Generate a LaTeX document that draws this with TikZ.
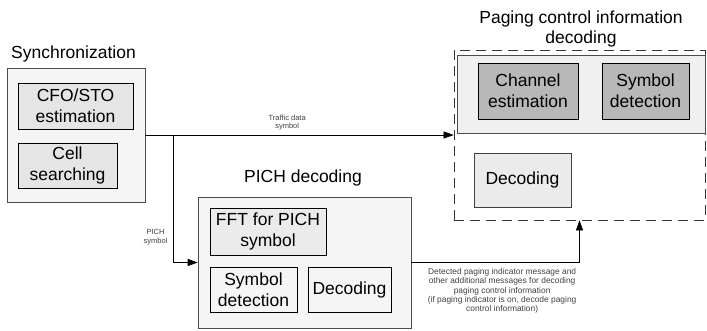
\documentclass[tikz,border=0pt]{standalone}
\usepackage{fontspec}
\setmainfont{Liberation Sans}
\usetikzlibrary{positioning,calc,arrows.meta}

\begin{document}
\begin{tikzpicture}[x=1pt,y=-1pt,
	grp/.style={draw=black!70,line width=0.6pt,fill=black!4,inner sep=0pt},
	blk/.style={draw=black,line width=0.8pt,fill=black!10,align=center,inner sep=0pt,font=\fontsize{17.5}{21}\selectfont},
	ttl/.style={align=center,font=\fontsize{17.5}{20}\selectfont},
	lbl/.style={align=center,font=\fontsize{7.5}{8.6}\selectfont,text=black!75},
	arr/.style={-{Triangle[length=10pt,width=7pt]},line width=0.6pt}]
	\useasboundingbox (0,0) rectangle (707,330);
	% synchronization
	\node [ttl] (synct) at (73.5,54) {Synchronization};
	\node [grp,minimum width=138,minimum height=134] (sync) at (76,135) {};
	\node [blk,minimum width=115,minimum height=46] (cfo) at (75.5,106) {CFO/STO\\estimation};
	\node [blk,minimum width=99,minimum height=45] (cell) at (67.5,165.5) {Cell\\searching};
	% PICH decoding
	\node [ttl] (picht) at (303,178) {PICH decoding};
	\node [grp,minimum width=213,minimum height=131] (pich) at (304.5,262.5) {};
	\node [blk,fill=black!8,minimum width=116,minimum height=47] (fft) at (268,231.5) {FFT for PICH\\symbol};
	\node [blk,fill=black!4,minimum width=87,minimum height=45] (pdet) at (253.5,289.5) {Symbol\\detection};
	\node [blk,fill=black!4,minimum width=83,minimum height=45] (pdec) at (349.5,289.5) {Decoding};
	% paging control information decoding
	\node [ttl] (pagt) at (581,29) {Paging control information\\decoding};
	\node [draw=black!80,line width=0.7pt,dash pattern=on 10pt off 6pt,minimum width=251,minimum height=170] (pag) at (579.5,135) {};
	\node [grp,fill=black!6,minimum width=248,minimum height=78] (est) at (581,94) {};
	\node [blk,fill=black!28,minimum width=100,minimum height=56] (chest) at (528,91) {Channel\\estimation};
	\node [blk,fill=black!28,minimum width=87,minimum height=56] (sdet) at (645.5,91) {Symbol\\detection};
	\node [blk,draw=black!75,fill=black!8,minimum width=97,minimum height=54] (dec) at (522.5,180) {Decoding};
	% connectors
	\coordinate (split) at (173,135);
	\draw [arr] (sync.east |- split) -- (pag.west |- split)
		node [lbl,pos=0.46,above=1pt] (trf) {Traffic data\\symbol};
	\draw [arr] (split) |- (pich.west)
		node [lbl,pos=0.4,left=2pt] (ps) {PICH\\symbol};
	\draw [arr] (pich.east) -| (pag.south)
		node [lbl,font=\fontsize{8.4}{9.4}\selectfont,pos=0.27,below=2pt] (det) {Detected paging indicator message and\\other additional messages for decoding\\paging control information\\(if paging indicator is on, decode paging\\control information)};
\end{tikzpicture}
\end{document}
